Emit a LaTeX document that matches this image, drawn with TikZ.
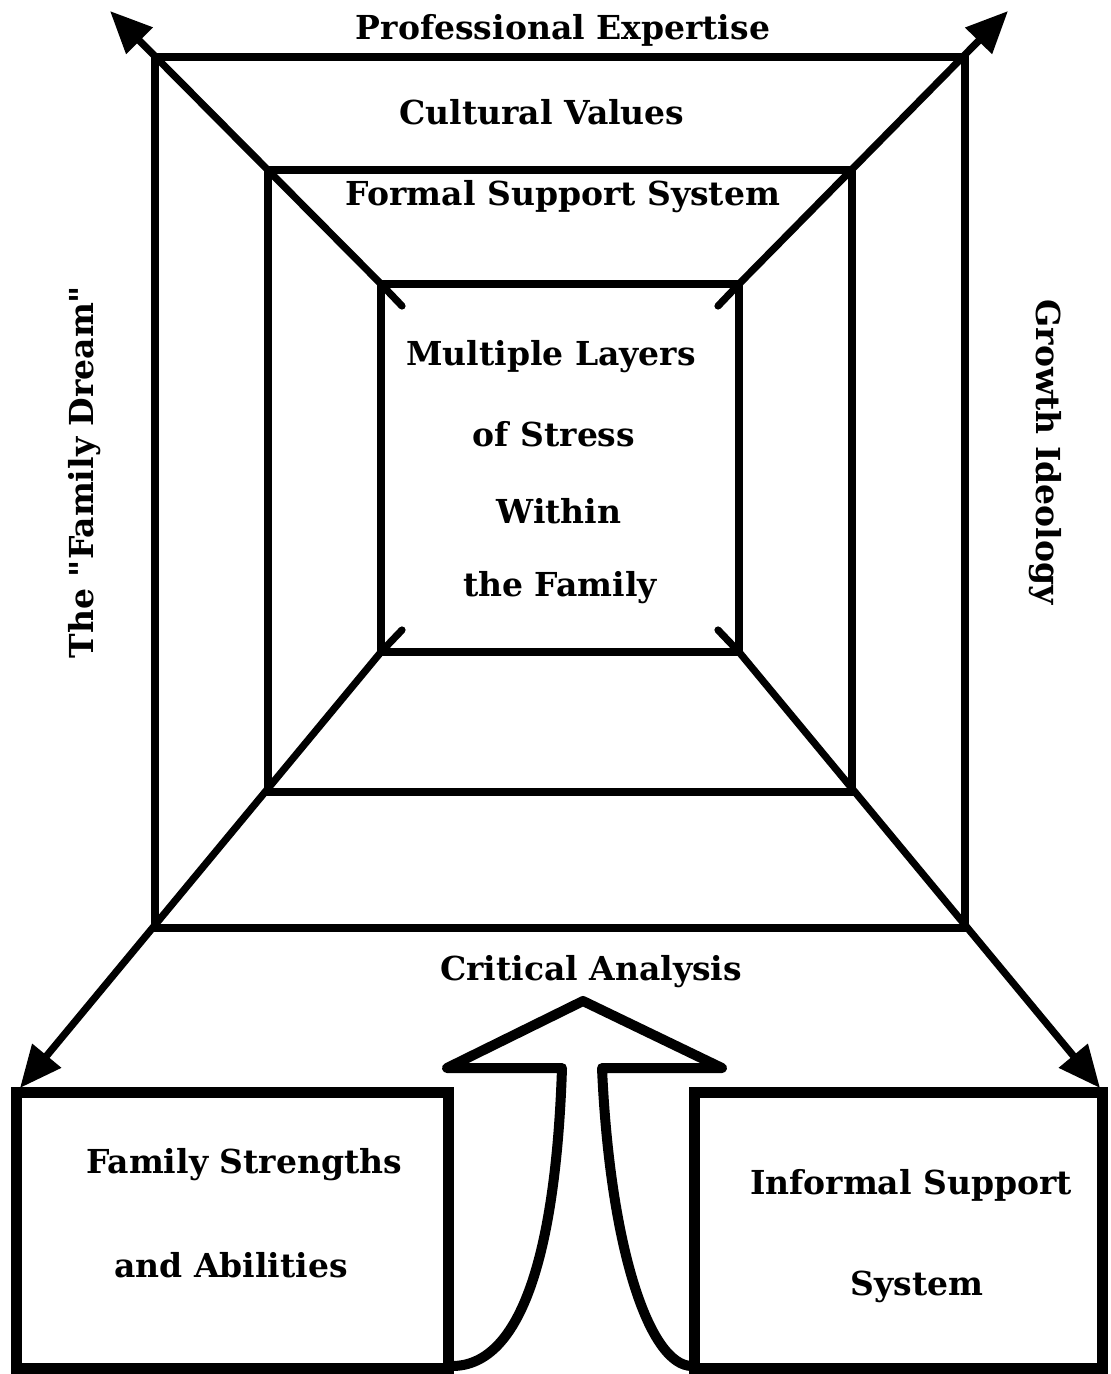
\documentclass[tikz,border=0pt]{standalone}
\usepackage{fontspec}
\setmainfont{DejaVu Serif}[Ligatures=TeXOff]
\usetikzlibrary{arrows.meta}
\begin{document}
\begin{tikzpicture}[x=0.5pt,y=-0.5pt,
  frame/.style={line width=3.6pt, line join=miter},
  diag/.style={line width=3.6pt, line cap=round, line join=round, -{Triangle[length=21pt,width=18pt]}},
  boxline/.style={line width=5.5pt},
  bigarrow/.style={line width=5pt, line join=round, line cap=round},
  lbl/.style={font=\fontsize{16.5}{19}\selectfont\bfseries, inner sep=0pt, anchor=center}]
\useasboundingbox (0,0) rectangle (1110,1374);
% squares
\coordinate (o1) at (155,57);  \coordinate (o2) at (965,57);
\coordinate (o3) at (965,928); \coordinate (o4) at (155,928);
\coordinate (m1) at (268,170); \coordinate (m2) at (852,170);
\coordinate (m3) at (852,792); \coordinate (m4) at (268,792);
\coordinate (i1) at (381,284); \coordinate (i2) at (739,284);
\coordinate (i3) at (739,652); \coordinate (i4) at (381,652);
\coordinate (s1) at (402,306); \coordinate (s2) at (718,306);
\coordinate (s3) at (718,630); \coordinate (s4) at (402,630);
\coordinate (t1) at (110,11);  \coordinate (t2) at (1008,11);
\coordinate (t3) at (1100,1088); \coordinate (t4) at (20,1088);
\draw[frame] (o1) -- (o2) -- (o3) -- (o4) -- cycle;
\draw[frame] (m1) -- (m2) -- (m3) -- (m4) -- cycle;
\draw[frame] (i1) -- (i2) -- (i3) -- (i4) -- cycle;
\draw[diag] (s1) -- (i1) -- (t1);
\draw[diag] (s2) -- (i2) -- (t2);
\draw[diag] (s3) -- (i3) -- (t3);
\draw[diag] (s4) -- (i4) -- (t4);
% bottom boxes
\draw[boxline] (16,1092) rectangle (448,1368);
\draw[boxline] (694,1092) rectangle (1102,1368);
% big arrow
\draw[bigarrow] (452,1366) .. controls (522,1366) and (556,1250) .. (562,1068)
  -- (447,1068) -- (583,1001) -- (722,1068) -- (602,1068)
  .. controls (610,1250) and (650,1366) .. (692,1366);
% labels
\node[lbl] (pe) at (563,30) {Professional Expertise};
\node[lbl] (cv) at (542,112) {Cultural Values};
\node[lbl] (fs) at (563,197) {Formal Support System};
\node[lbl] (ml1) at (551,357) {Multiple Layers};
\node[lbl] (ml2) at (554,434) {of Stress};
\node[lbl] (ml3) at (559,511) {Within};
\node[lbl] (ml4) at (560,588) {the Family};
\node[lbl, rotate=90] (fd) at (85,472) {The "Family Dream"};
\node[lbl, rotate=-90] (gi) at (1045,452) {Growth Ideology};
\node[lbl] (ca) at (591,972) {Critical Analysis};
\node[lbl] (fsa1) at (244,1165) {Family Strengths};
\node[lbl] (fsa2) at (231,1265) {and Abilities};
\node[lbl] (is1) at (911,1185) {Informal Support};
\node[lbl] (is2) at (917,1287) {System};
\end{tikzpicture}
\end{document}
